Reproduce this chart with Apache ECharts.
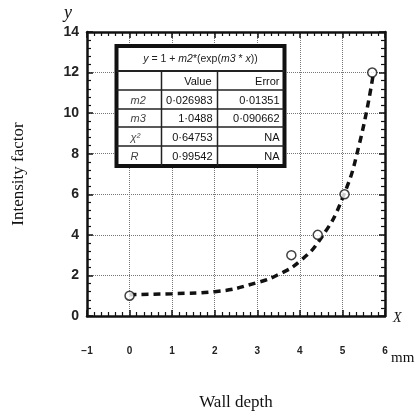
<!DOCTYPE html>
<html>
<head>
<meta charset="utf-8">
<script src="https://cdn.jsdelivr.net/npm/echarts@6/dist/echarts.min.js"></script>
<style>
html, body { margin: 0; padding: 0; background: #fff; }
#main { width: 416px; height: 416px; }
</style>
</head>
<body>
<div id="main"></div>
<script>
// measured points
var pointX = [0, 3.8, 4.42, 5.05, 5.7];
var pointY = [1, 3, 4, 6, 12];
// fitted curve
var fitX = [0, 1, 2, 3, 3.5, 4, 4.5, 5, 5.4, 5.73];
var fitY = [1.05, 1.1, 1.2, 1.65, 2.05, 2.7, 3.85, 5.8, 8.5, 12];
// x tick labels and y tick labels
var xTicks = [-1, 0, 1, 2, 3, 4, 5, 6];
var yTicks = [0, 2, 4, 6, 8, 10, 12, 14];
// fit table
var tableTitle = 'y = 1 + m2*(exp(m3 * x))';
var colHeads = ['', 'Value', 'Error'];
var rowNames = ['m2', 'm3', 'χ²', 'R'];
var rowValues = ['0·026983', '1·0488', '0·64753', '0·99542'];
var rowErrors = ['0·01351', '0·090662', 'NA', 'NA'];

var myChart = echarts.init(document.getElementById('main'));

var serif = 'Liberation Serif';
var sans = 'Liberation Sans';

// table drawn as graphic elements
var tx = 114, ty = 44, tw = 168, th = 120;
var c1 = 45, c2 = 101;
var rowTops = [0, 25, 44, 63, 81, 100, 120];
var tableEls = [];
tableEls.push({type: 'rect', z: 100, shape: {x: 0, y: 0, width: tw, height: th}, style: {fill: '#fff', stroke: '#111', lineWidth: 4}});
for (var i = 1; i < rowTops.length - 1; i++) {
    tableEls.push({type: 'line', z: 101, shape: {x1: 0, y1: rowTops[i], x2: tw, y2: rowTops[i]}, style: {stroke: '#222', lineWidth: i === 1 ? 2 : 1.5}});
}
[c1, c2].forEach(function (cx) {
    tableEls.push({type: 'line', z: 101, shape: {x1: cx, y1: rowTops[1], x2: cx, y2: th}, style: {stroke: '#222', lineWidth: 1.5}});
});
tableEls.push({
    type: 'text', z: 102, x: tw / 2, y: rowTops[1] / 2 + 1,
    style: {
        text: '{i|y} = 1 + {i|m2}*(exp({i|m3} * {i|x}))',
        rich: {i: {fontStyle: 'italic', fontFamily: sans, fontSize: 10.5, fill: '#222'}},
        fontFamily: sans, fontSize: 10.5, fill: '#222', align: 'center', verticalAlign: 'middle'
    }
});
function cellText(txt, x, row, align, italic, color) {
    var mid = (rowTops[row] + rowTops[row + 1]) / 2 + 1;
    tableEls.push({
        type: 'text', z: 102, x: x, y: mid,
        style: {text: txt, fontFamily: sans, fontSize: 11, fontStyle: italic ? 'italic' : 'normal',
            fill: color || '#111', align: align, verticalAlign: 'middle'}
    });
}
cellText(colHeads[1], c2 - 6, 1, 'right');
cellText(colHeads[2], tw - 5, 1, 'right');
for (var r = 0; r < rowNames.length; r++) {
    cellText(rowNames[r], 14, r + 2, 'left', true, '#444');
    cellText(rowValues[r], c2 - 5, r + 2, 'right');
    cellText(rowErrors[r], tw - 5, r + 2, 'right');
}

var axisCommon = {
    axisLine: {show: true, onZero: false, lineStyle: {color: '#111', width: 2.5}},
    axisTick: {show: true, inside: true, length: 6, lineStyle: {color: '#111', width: 1.5}},
    minorTick: {show: true, length: 4, lineStyle: {color: '#111', width: 1.2}},
    splitLine: {show: false}
};

option = {
    backgroundColor: '#fff',
    animation: false,
    grid: {left: 87, right: 31, top: 32, bottom: 93},
    xAxis: [
        echarts.util.merge({
            type: 'value', min: -1, max: 6, interval: 1,
            name: 'Wall depth', nameLocation: 'middle', nameGap: 78,
            nameTextStyle: {fontFamily: serif, fontSize: 17, color: '#111'},
            minorTick: {show: true, splitNumber: 6},
            splitLine: {show: true, lineStyle: {color: '#777', type: [1, 1], width: 1}},
            axisLabel: {margin: 30, fontFamily: sans, fontWeight: 'bold', fontSize: 10, color: '#222',
                formatter: function (v) { return xTicks.indexOf(v) >= 0 ? (v < 0 ? '−' + (-v) : String(v)) : ''; }}
        }, axisCommon, false),
        echarts.util.merge({
            type: 'value', min: -1, max: 6, interval: 1, position: 'top',
            minorTick: {show: true, splitNumber: 6},
            axisLabel: {show: false}
        }, axisCommon, false)
    ],
    yAxis: [
        echarts.util.merge({
            type: 'value', min: 0, max: 14, interval: 2,
            name: 'Intensity factor', nameLocation: 'middle', nameGap: 60,
            nameTextStyle: {fontFamily: serif, fontSize: 17, color: '#111'},
            minorTick: {show: true, splitNumber: 5},
            splitLine: {show: true, lineStyle: {color: '#777', type: [1, 1], width: 1}},
            axisLabel: {margin: 8, fontFamily: sans, fontWeight: 'bold', fontSize: 14, color: '#222',
                formatter: function (v) { return yTicks.indexOf(v) >= 0 ? String(v) : ''; }}
        }, axisCommon, false),
        echarts.util.merge({
            type: 'value', min: 0, max: 14, interval: 2, position: 'right',
            minorTick: {show: true, splitNumber: 5},
            axisLabel: {show: false}
        }, axisCommon, false)
    ],
    graphic: [
        {type: 'text', left: 64, top: 4, style: {text: 'y', fontFamily: serif, fontStyle: 'italic', fontSize: 18, fill: '#111'}},
        {type: 'text', left: 393, top: 311, style: {text: 'X', fontFamily: serif, fontStyle: 'italic', fontSize: 14, fill: '#111'}},
        {type: 'text', left: 391, top: 351, style: {text: 'mm', fontFamily: serif, fontSize: 15, fill: '#111'}},
        {type: 'group', left: tx, top: ty, z: 100, children: tableEls}
    ],
    series: [
        {
            name: 'fit', type: 'line', smooth: true, showSymbol: false, z: 3,
            lineStyle: {color: '#111', width: 3.5, type: [7, 5]},
            data: fitX.map(function (x, i) { return [x, fitY[i]]; })
        },
        {
            name: 'data', type: 'scatter', symbol: 'circle', symbolSize: 9, z: 4,
            itemStyle: {color: '#fff', borderColor: '#111', borderWidth: 1.5},
            data: pointX.map(function (x, i) { return [x, pointY[i]]; })
        }
    ]
};
myChart.setOption(option);
window.onresize = myChart.resize;
</script>
</body>
</html>
